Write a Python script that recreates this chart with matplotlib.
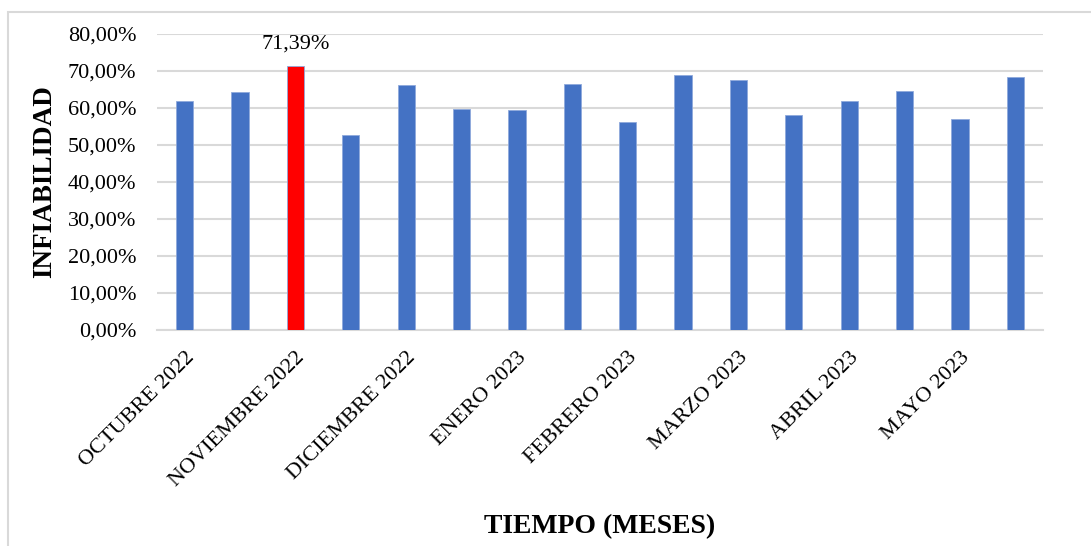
import numpy as np
import matplotlib.pyplot as plt
from matplotlib.patches import Rectangle
from matplotlib.ticker import FuncFormatter

plt.rcParams['font.family'] = ['Liberation Serif', 'DejaVu Serif']

# infiabilidad per period, in %
valores = [61.8, 64.4, 71.39, 52.6, 66.2, 59.6, 59.4, 66.4,
           56.3, 68.8, 67.5, 58.0, 61.8, 64.5, 57.0, 68.3]
meses = ['OCTUBRE 2022', 'NOVIEMBRE 2022', 'DICIEMBRE 2022', 'ENERO 2023',
         'FEBRERO 2023', 'MARZO 2023', 'ABRIL 2023', 'MAYO 2023']
destacado = 2  # index of the max bar

x = np.arange(len(valores))
colores = ['#4472C4'] * len(valores)
colores[destacado] = '#FF0000'

fig = plt.figure(figsize=(10.91, 5.46), dpi=100)
ax = fig.add_axes([0.1439, 0.3956, 0.8121, 0.5421])

# light frame around the chart area
fig.patches.append(Rectangle((8 / 1091, -0.1), 1.2, 1 - 12 / 546 + 0.1,
                             transform=fig.transFigure, fill=False,
                             edgecolor='#d9d9d9', lw=1.5))

ax.bar(x, valores, width=0.31, color=colores, edgecolor='#8fa9dc', lw=0.6, zorder=3)
ax.text(x[destacado], valores[destacado] + 3.3,
        f'{valores[destacado]:.2f}%'.replace('.', ','),
        ha='center', va='bottom', fontsize=16)

ax.set_xlim(-0.5, len(valores) - 0.5)
ax.set_ylim(0, 80)
ax.set_yticks(np.arange(0, 81, 10))
ax.yaxis.set_major_formatter(FuncFormatter(lambda v, p: f'{v:.2f}%'.replace('.', ',')))
ax.grid(axis='y', color='#d9d9d9', lw=1.5, zorder=0)
for s in ['top', 'right', 'left']:
    ax.spines[s].set_visible(False)
ax.spines['bottom'].set_color('#d9d9d9')
ax.spines['bottom'].set_linewidth(1.5)

ax.set_xticks(x[::2])
ax.set_xticklabels(meses, rotation=45, ha='right', rotation_mode='anchor', fontsize=16)
ax.tick_params(axis='x', length=0, pad=13)
ax.tick_params(axis='y', length=0, pad=15, labelsize=16)

fig.text(45 / 1091, 1 - 182 / 546, 'INFIABILIDAD', rotation=90, ha='center', va='center',
         fontsize=19.5, fontweight='bold')
fig.text(600 / 1091, 1 - 527 / 546, 'TIEMPO (MESES)', ha='center', va='center',
         fontsize=20, fontweight='bold')

plt.savefig('out.png', dpi=100)
